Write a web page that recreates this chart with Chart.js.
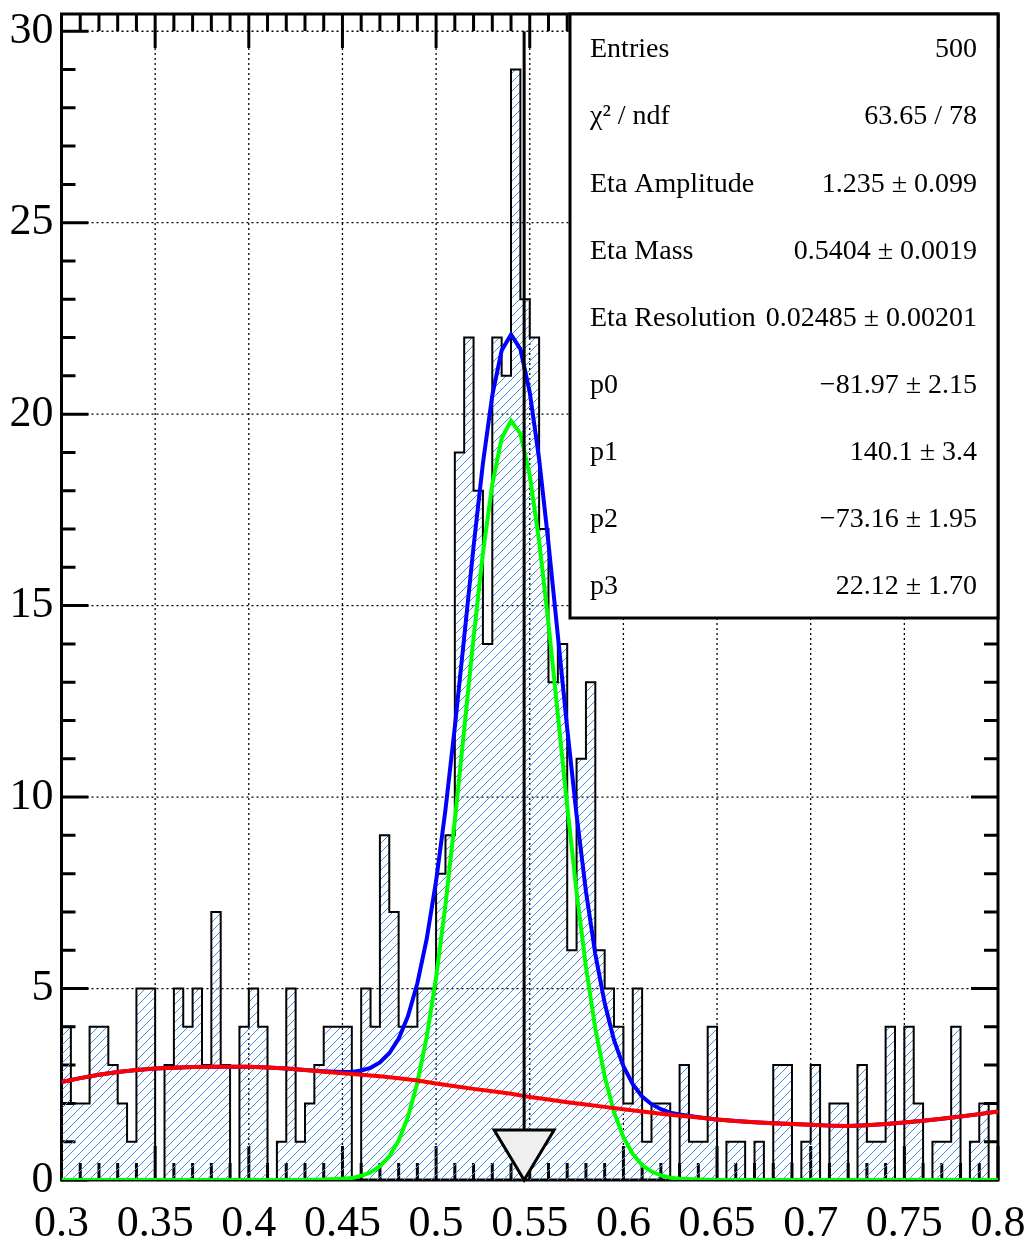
<!DOCTYPE html>
<html><head><meta charset="utf-8">
<script src="https://cdn.jsdelivr.net/npm/chart.js@4.4.1/dist/chart.umd.min.js"></script>
<style>html,body{margin:0;padding:0;background:#fff;}#wrap{width:1029px;height:1239px;}</style>
</head><body><div id="wrap"><canvas id="c" width="1029" height="1239"></canvas></div>
<script>
// ---------- data ----------
const binStart = 0.3;
const binStep = 0.005;
const counts = [
 4,2,2,4,4,3,2,1,5,5,
 0,3,5,4,5,3,7,3,0,4,
 5,4,0,1,5,1,2,3,4,4,
 4,0,5,4,9,7,4,4,5,5,
 8,9,19,22,18,14,22,21,29,23,
 22,17,13,14,6,11,13,6,5,4,
 2,5,1,2,2,0,3,1,1,4,
 0,1,1,0,1,0,3,3,0,1,
 3,0,2,2,0,3,1,1,4,0,
 4,2,0,1,1,4,0,1,2,0
];
const xTicks = [0.3,0.35,0.4,0.45,0.5,0.55,0.6,0.65,0.7,0.75,0.8];
const xTickLabels = ['0.3','0.35','0.4','0.45','0.5','0.55','0.6','0.65','0.7','0.75','0.8'];
const yTicks = [0,5,10,15,20,25,30];
const yTickLabels = ['0','5','10','15','20','25','30'];
const xMinorStep = 0.01;
const yMinorStep = 1;

// background (red)
const bkgX = [0.30,0.31,0.32,0.33,0.34,0.35,0.36,0.37,0.38,0.39,0.40,0.41,0.42,0.43,0.44,0.45,0.46,0.47,0.48,0.49,0.50,0.51,0.52,0.53,0.54,0.55,0.56,0.57,0.58,0.59,0.60,0.61,0.62,0.63,0.64,0.65,0.66,0.67,0.68,0.69,0.70,0.71,0.72,0.73,0.74,0.75,0.76,0.77,0.78,0.79,0.80];
const bkgY = [2.56,2.66,2.75,2.82,2.87,2.91,2.93,2.95,2.96,2.96,2.96,2.94,2.91,2.87,2.83,2.79,2.75,2.71,2.66,2.60,2.52,2.45,2.38,2.32,2.25,2.17,2.10,2.03,1.97,1.91,1.85,1.79,1.73,1.68,1.63,1.58,1.54,1.51,1.48,1.46,1.44,1.42,1.41,1.43,1.46,1.50,1.55,1.60,1.66,1.72,1.79];

// signal (green)
const sigX = [0.30,0.43,0.44,0.45,0.455,0.46,0.465,0.47,0.475,0.48,0.485,0.49,0.495,0.50,0.505,0.51,0.515,0.52,0.525,0.53,0.535,0.54,0.545,0.55,0.555,0.56,0.565,0.57,0.575,0.58,0.585,0.59,0.595,0.60,0.605,0.61,0.615,0.62,0.625,0.63,0.64,0.65,0.80];
const sigY = [0,0,0.01,0.03,0.05,0.11,0.20,0.36,0.62,1.03,1.65,2.54,3.74,5.29,7.19,9.39,11.76,14.16,16.37,18.17,19.37,19.83,19.49,18.40,16.69,14.53,12.15,9.76,7.53,5.57,3.96,2.71,1.77,1.12,0.68,0.39,0.22,0.12,0.06,0.03,0.01,0,0];

// total (blue)
const totX = [0.30,0.31,0.32,0.33,0.34,0.35,0.36,0.37,0.38,0.39,0.40,0.41,0.42,0.43,0.44,0.45,0.455,0.46,0.465,0.47,0.475,0.48,0.485,0.49,0.495,0.50,0.505,0.51,0.515,0.52,0.525,0.53,0.535,0.54,0.545,0.55,0.555,0.56,0.565,0.57,0.575,0.58,0.585,0.59,0.595,0.60,0.605,0.61,0.615,0.62,0.625,0.63,0.64,0.65,0.66,0.67,0.68,0.69,0.70,0.71,0.72,0.73,0.74,0.75,0.76,0.77,0.78,0.79,0.80];
const totY = [2.56,2.66,2.75,2.82,2.87,2.91,2.93,2.95,2.96,2.96,2.96,2.94,2.91,2.87,2.84,2.82,2.82,2.86,2.93,3.07,3.31,3.69,4.28,5.14,6.30,7.81,9.67,11.83,14.17,16.54,18.72,20.49,21.66,22.08,21.70,20.57,18.83,16.63,14.22,11.79,9.53,7.54,5.90,4.62,3.65,2.97,2.50,2.18,1.98,1.85,1.76,1.71,1.64,1.58,1.54,1.51,1.48,1.46,1.44,1.42,1.41,1.43,1.46,1.50,1.55,1.60,1.66,1.72,1.79];

const arrowX = 0.547;
const arrowTopY = 30;

const statsLabels = ['Entries','\u03C7\u00B2 / ndf','Eta Amplitude','Eta Mass','Eta Resolution','p0','p1','p2','p3'];
const statsValues = ['500','63.65 / 78','1.235 \u00B1 0.099','0.5404 \u00B1 0.0019','0.02485 \u00B1 0.00201','\u221281.97 \u00B1 2.15','140.1 \u00B1 3.4','\u221273.16 \u00B1 1.95','22.12 \u00B1 1.70'];

// ---------- drawing ----------
const canvas = document.getElementById('c');
const ctx = canvas.getContext('2d');
const FONT = '"Liberation Serif", "Times New Roman", serif';

function hatchPattern() {
  const n = 9;
  const c = document.createElement('canvas');
  c.width = n; c.height = n;
  const g = c.getContext('2d');
  g.strokeStyle = '#3d8fe8';
  g.lineWidth = 1;
  g.beginPath();
  g.moveTo(-1, n + 1); g.lineTo(n + 1, -1);
  g.moveTo(-1, 1); g.lineTo(1, -1);
  g.moveTo(n - 1, n + 1); g.lineTo(n + 1, n - 1);
  g.stroke();
  return ctx.createPattern(c, 'repeat');
}

// step outline: each point sits at a bin's right edge carrying that bin's count
const histPts = [{x: binStart, y: 0}];
counts.forEach((v, i) => histPts.push({x: binStart + (i + 1) * binStep, y: v}));
histPts.push({x: binStart + counts.length * binStep, y: 0});

const toPts = (xs, ys) => xs.map((x, i) => ({x: x, y: ys[i]}));

const framePlugin = {
  id: 'rootFrame',
  beforeDatasetsDraw(chart) {
    const {ctx, chartArea: a, scales: {x, y}} = chart;
    ctx.save();
    // grid
    ctx.strokeStyle = '#000';
    ctx.lineWidth = 1.3;
    ctx.setLineDash([2, 3]);
    xTicks.forEach(v => {
      const px = x.getPixelForValue(v);
      if (px <= a.left + 2 || px >= a.right - 2) return;
      ctx.beginPath(); ctx.moveTo(px, a.bottom); ctx.lineTo(px, a.top); ctx.stroke();
    });
    yTicks.forEach(v => {
      const py = y.getPixelForValue(v);
      if (py >= a.bottom - 2 || py <= a.top + 2) return;
      ctx.beginPath(); ctx.moveTo(a.left, py); ctx.lineTo(a.right, py); ctx.stroke();
    });
    ctx.setLineDash([]);
    // ticks
    ctx.lineWidth = 3;
    const nx = Math.round((x.max - x.min) / xMinorStep);
    for (let j = 0; j <= nx; j++) {
      const v = x.min + j * xMinorStep;
      const major = xTicks.some(t => Math.abs(t - v) < 1e-6);
      const len = major ? 34 : 17;
      const px = x.getPixelForValue(v);
      ctx.beginPath();
      ctx.moveTo(px, a.bottom); ctx.lineTo(px, a.bottom - len);
      ctx.moveTo(px, a.top); ctx.lineTo(px, a.top + len);
      ctx.stroke();
    }
    for (let v = 0; v <= 30; v += yMinorStep) {
      const major = yTicks.includes(v);
      const len = major ? 27 : 14;
      const py = y.getPixelForValue(v);
      ctx.beginPath();
      ctx.moveTo(a.left, py); ctx.lineTo(a.left + len, py);
      ctx.moveTo(a.right, py); ctx.lineTo(a.right - len, py);
      ctx.stroke();
    }
    // frame
    ctx.lineWidth = 3;
    ctx.strokeRect(a.left, a.top, a.right - a.left, a.bottom - a.top);
    ctx.restore();
  },
  afterDatasetsDraw(chart) {
    const {ctx, scales: {x, y}} = chart;
    const px = x.getPixelForValue(arrowX);
    const tip = y.getPixelForValue(0);
    const top = y.getPixelForValue(arrowTopY);
    const headH = 50, headW = 60;
    ctx.save();
    ctx.strokeStyle = '#000';
    ctx.lineWidth = 3;
    ctx.beginPath(); ctx.moveTo(px, top); ctx.lineTo(px, tip - headH); ctx.stroke();
    ctx.beginPath();
    ctx.moveTo(px - headW / 2, tip - headH);
    ctx.lineTo(px + headW / 2, tip - headH);
    ctx.lineTo(px, tip);
    ctx.closePath();
    ctx.fillStyle = '#efefef';
    ctx.fill();
    ctx.lineJoin = 'miter';
    ctx.stroke();
    ctx.restore();
  },
  afterDraw(chart) {
    const ctx = chart.ctx;
    const bx = 570, by = 14, bw = 428, bh = 604;
    ctx.save();
    ctx.fillStyle = '#fff';
    ctx.fillRect(bx, by, bw, bh);
    ctx.strokeStyle = '#000';
    ctx.lineWidth = 3;
    ctx.strokeRect(bx, by, bw, bh);
    ctx.fillStyle = '#000';
    ctx.font = '28px ' + FONT;
    ctx.textBaseline = 'middle';
    statsLabels.forEach((t, i) => {
      const ty = 50 + 67.1 * i;
      ctx.textAlign = 'left';
      ctx.fillText(t, 590, ty);
      ctx.textAlign = 'right';
      ctx.fillText(statsValues[i], 977, ty);
    });
    ctx.restore();
  }
};

const pattern = hatchPattern();

new Chart(ctx, {
  type: 'scatter',
  data: {
    datasets: [
      {data: histPts, showLine: true, stepped: 'after', borderColor: '#000', borderWidth: 2,
       backgroundColor: pattern, fill: 'origin', pointRadius: 0, order: 10},
      {data: toPts(totX, totY), showLine: true, borderColor: '#0000ff', borderWidth: 4,
       pointRadius: 0, fill: false, tension: 0, order: 3},
      {data: toPts(sigX, sigY), showLine: true, borderColor: '#00ff00', borderWidth: 4,
       pointRadius: 0, fill: false, tension: 0, order: 2},
      {data: toPts(bkgX, bkgY), showLine: true, borderColor: '#ff0000', borderWidth: 4,
       pointRadius: 0, fill: false, tension: 0, order: 1}
    ]
  },
  options: {
    responsive: false,
    animation: false,
    devicePixelRatio: 1,
    layout: {padding: {left: 0, right: 31, top: 14, bottom: 0}},
    plugins: {legend: {display: false}, tooltip: {enabled: false}},
    scales: {
      x: {
        type: 'linear', min: 0.3, max: 0.8,
        grid: {display: false}, border: {display: false},
        afterBuildTicks: s => { s.ticks = xTicks.map(v => ({value: v})); },
        afterFit: s => { s.height = 59; s.paddingLeft = 0; s.paddingRight = 0; },
        ticks: {color: '#000', font: {family: FONT, size: 44}, padding: 10, maxRotation: 0, minRotation: 0,
                autoSkip: false, callback: (v, i) => xTickLabels[i]}
      },
      y: {
        type: 'linear', min: 0, max: 30.45,
        grid: {display: false}, border: {display: false},
        afterBuildTicks: s => { s.ticks = yTicks.map(v => ({value: v})); },
        afterFit: s => { s.width = 61.5; s.paddingTop = 0; s.paddingBottom = 0; },
        ticks: {color: '#000', font: {family: FONT, size: 44}, padding: 0, autoSkip: false,
                callback: (v, i) => yTickLabels[i]}
      }
    }
  },
  plugins: [framePlugin]
});
</script>
</body></html>
